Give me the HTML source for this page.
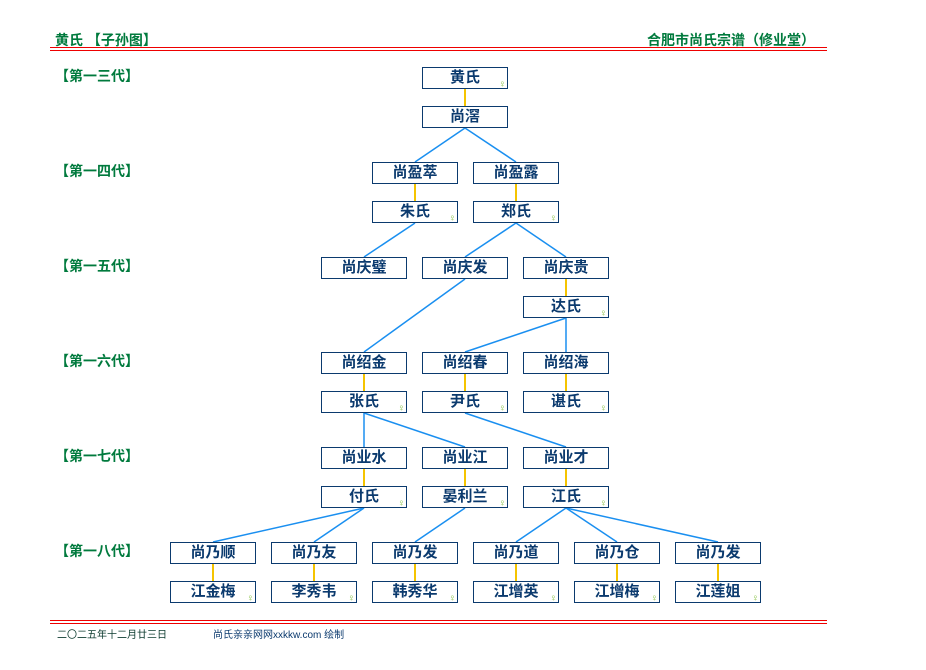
<!DOCTYPE html>
<html><head><meta charset="utf-8"><style>
body{margin:0;background:#fff;width:926px;height:670px;position:relative;overflow:hidden;font-family:"Liberation Sans","Noto Sans CJK SC",sans-serif}
.t{position:absolute;color:#007a3d;font-weight:bold;font-size:14px}
.b{position:absolute;width:84px;height:20px;border:1px solid #0b3a6e;background:#fff;color:#0b3a6e;font-weight:bold;font-size:15px;text-align:center;line-height:20px}
.b i{position:absolute;right:1px;bottom:-2px;font-size:10px;line-height:10px;color:#8bc34a;font-style:normal;font-weight:normal}
.r{position:absolute;left:50px;width:777px;height:1px;background:#e00}
</style></head><body>
<div class="t" style="left:55px;top:30px">黄氏 【子孙图】</div>
<div class="t" style="left:647px;top:30px">合肥市尚氏宗谱（修业堂）</div>
<div class="r" style="top:47px"></div><div class="r" style="top:50px"></div>
<div class="r" style="top:620px"></div><div class="r" style="top:623px"></div>
<div style="position:absolute;left:57px;top:626px;font-size:10px;color:#0b3a2e">二〇二五年十二月廿三日</div>
<div style="position:absolute;left:213px;top:626px;font-size:10px;color:#0b3a6e">尚氏亲亲网网xxkkw.com 绘制</div>
<div class="t" style="left:55px;top:66px">【第一三代】</div>
<div class="t" style="left:55px;top:161px">【第一四代】</div>
<div class="t" style="left:55px;top:256px">【第一五代】</div>
<div class="t" style="left:55px;top:351px">【第一六代】</div>
<div class="t" style="left:55px;top:446px">【第一七代】</div>
<div class="t" style="left:55px;top:541px">【第一八代】</div>
<svg style="position:absolute;left:0;top:0" width="926" height="670">
<g stroke="#f5c400" stroke-width="2">
<line x1="465" y1="89" x2="465" y2="106"/><line x1="415" y1="184" x2="415" y2="201"/><line x1="516" y1="184" x2="516" y2="201"/>
<line x1="566" y1="279" x2="566" y2="296"/>
<line x1="364" y1="374" x2="364" y2="391"/><line x1="465" y1="374" x2="465" y2="391"/><line x1="566" y1="374" x2="566" y2="391"/>
<line x1="364" y1="469" x2="364" y2="486"/><line x1="465" y1="469" x2="465" y2="486"/><line x1="566" y1="469" x2="566" y2="486"/>
<line x1="213" y1="564" x2="213" y2="581"/><line x1="314" y1="564" x2="314" y2="581"/><line x1="415" y1="564" x2="415" y2="581"/><line x1="516" y1="564" x2="516" y2="581"/><line x1="617" y1="564" x2="617" y2="581"/><line x1="718" y1="564" x2="718" y2="581"/>
</g>
<g stroke="#1a8ff0" stroke-width="1.5">
<line x1="465" y1="128" x2="415" y2="162"/><line x1="465" y1="128" x2="516" y2="162"/>
<line x1="415" y1="223" x2="364" y2="257"/><line x1="516" y1="223" x2="465" y2="257"/><line x1="516" y1="223" x2="566" y2="257"/>
<line x1="465" y1="279" x2="364" y2="352"/>
<line x1="566" y1="318" x2="465" y2="352"/><line x1="566" y1="318" x2="566" y2="352"/>
<line x1="364" y1="413" x2="364" y2="447"/><line x1="364" y1="413" x2="465" y2="447"/><line x1="465" y1="413" x2="566" y2="447"/>
<line x1="364" y1="508" x2="213" y2="542"/><line x1="364" y1="508" x2="314" y2="542"/><line x1="465" y1="508" x2="415" y2="542"/>
<line x1="566" y1="508" x2="516" y2="542"/><line x1="566" y1="508" x2="617" y2="542"/><line x1="566" y1="508" x2="718" y2="542"/>
</g></svg>
<div class="b" style="left:422px;top:67px">黄氏<i>♀</i></div>
<div class="b" style="left:422px;top:106px">尚滘</div>
<div class="b" style="left:372px;top:162px">尚盈萃</div>
<div class="b" style="left:473px;top:162px">尚盈露</div>
<div class="b" style="left:372px;top:201px">朱氏<i>♀</i></div>
<div class="b" style="left:473px;top:201px">郑氏<i>♀</i></div>
<div class="b" style="left:321px;top:257px">尚庆璧</div>
<div class="b" style="left:422px;top:257px">尚庆发</div>
<div class="b" style="left:523px;top:257px">尚庆贵</div>
<div class="b" style="left:523px;top:296px">达氏<i>♀</i></div>
<div class="b" style="left:321px;top:352px">尚绍金</div>
<div class="b" style="left:422px;top:352px">尚绍春</div>
<div class="b" style="left:523px;top:352px">尚绍海</div>
<div class="b" style="left:321px;top:391px">张氏<i>♀</i></div>
<div class="b" style="left:422px;top:391px">尹氏<i>♀</i></div>
<div class="b" style="left:523px;top:391px">谌氏<i>♀</i></div>
<div class="b" style="left:321px;top:447px">尚业水</div>
<div class="b" style="left:422px;top:447px">尚业江</div>
<div class="b" style="left:523px;top:447px">尚业才</div>
<div class="b" style="left:321px;top:486px">付氏<i>♀</i></div>
<div class="b" style="left:422px;top:486px">晏利兰<i>♀</i></div>
<div class="b" style="left:523px;top:486px">江氏<i>♀</i></div>
<div class="b" style="left:170px;top:542px">尚乃顺</div>
<div class="b" style="left:271px;top:542px">尚乃友</div>
<div class="b" style="left:372px;top:542px">尚乃发</div>
<div class="b" style="left:473px;top:542px">尚乃道</div>
<div class="b" style="left:574px;top:542px">尚乃仓</div>
<div class="b" style="left:675px;top:542px">尚乃发</div>
<div class="b" style="left:170px;top:581px">江金梅<i>♀</i></div>
<div class="b" style="left:271px;top:581px">李秀韦<i>♀</i></div>
<div class="b" style="left:372px;top:581px">韩秀华<i>♀</i></div>
<div class="b" style="left:473px;top:581px">江增英<i>♀</i></div>
<div class="b" style="left:574px;top:581px">江增梅<i>♀</i></div>
<div class="b" style="left:675px;top:581px">江莲姐<i>♀</i></div>
</body></html>
